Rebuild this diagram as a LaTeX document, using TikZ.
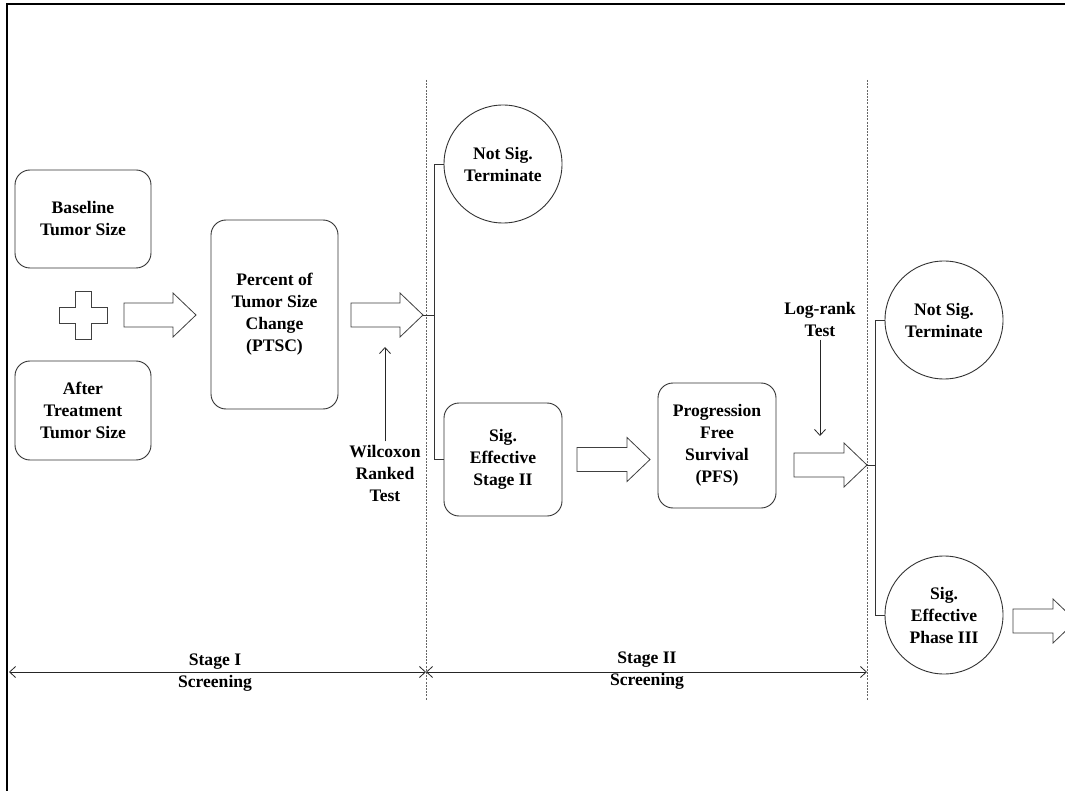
\documentclass[tikz,border=0pt]{standalone}
\usepackage{fontspec}
\setmainfont{Liberation Serif}
\usetikzlibrary{arrows.meta}

\newcommand\lbl{\fontsize{17.6}{22}\selectfont\bfseries}
% fat outline arrow: shaft start (mid point), shaft length, tip name
\newcommand\fatarrow[3]{\draw[barrow] #1 ++(0,-12) -- ++(#2,0) -- ++(0,-10) -- ++(23,22) coordinate (#3) -- ++(-23,22) -- ++(0,-10) -- ++(-#2,0) -- cycle;}

\tikzset{
  box/.style={draw=black!80, line width=0.9pt, rounded corners=15pt, align=center, font=\lbl},
  disc/.style={draw=black!80, line width=0.9pt, circle, minimum size=118pt, inner sep=0pt, align=center, font=\lbl},
  barrow/.style={draw=black!75, line width=0.8pt, fill=white},
  testarrow/.style={draw=black!85, line width=0.8pt, -{Straight Barb[length=6pt,width=11pt]}},
  stagearrow/.style={draw=black!85, line width=0.8pt, {Straight Barb[length=6pt,width=11pt]}-{Straight Barb[length=6pt,width=11pt]}},
  divider/.style={draw=black!60, line width=0.8pt, dash pattern=on 2pt off 1.2pt},
  bracket/.style={draw=black!80, line width=0.8pt},
}

\begin{document}
\begin{tikzpicture}[x=1pt,y=-1pt]
  \useasboundingbox (0,0) rectangle (1065,791);
  \clip (0,0) rectangle (1065,791);
  \fill[white] (0,0) rectangle (1065,791);
  \draw[line width=1.2pt] (7,791) -- (7,4) -- (1065,4);

  % stage dividers
  \coordinate (d1top) at (426,80);
  \coordinate (d1bot) at (426,700);
  \coordinate (d2top) at (867,80);
  \coordinate (d2bot) at (867,700);
  \draw[divider] (d1top) -- (d1bot);
  \draw[divider] (d2top) -- (d2bot);

  % stage I
  \node[box, minimum width=136pt, minimum height=98pt] (base) at (83,219) {Baseline\\Tumor Size};
  \node[box, minimum width=136pt, minimum height=99pt] (after) at (83,410.5) {After\\Treatment\\Tumor Size};
  \draw[draw=black!75, line width=0.9pt] (75,291) -- (91,291) -- (91,307) -- (107,307) -- (107,323) -- (91,323)
    -- (91,339) -- (75,339) -- (75,323) -- (59,323) -- (59,307) -- (75,307) -- cycle;
  \fatarrow{(124,315)}{49}{t1}
  \node[box, minimum width=127pt, minimum height=189pt] (ptsc) at (274.5,314.5) {Percent of\\Tumor Size\\Change\\(PTSC)};
  \fatarrow{(351,315)}{49}{t2}
  \node[align=center, font=\lbl] (wil) at (385,473) {Wilcoxon\\Ranked\\Test};
  \coordinate (w) at (385,347);
  \draw[testarrow] (wil.north) -- (w);

  % stage II
  \node[disc] (ns1) at (503,164) {Not Sig.\\Terminate};
  \node[box, minimum width=118pt, minimum height=113pt] (sig2) at (503,459.5) {Sig.\\Effective\\Stage II};
  \draw[bracket] (ns1.west) -- ++(-9,0) coordinate (b1) |- (sig2.west);
  \draw[bracket] (t2) -- (t2 -| b1);
  \fatarrow{(577,459.5)}{50}{t3}
  \node[box, minimum width=118pt, minimum height=125pt] (pfs) at (717,445.5) {Progression\\Free\\Survival\\(PFS)};
  \fatarrow{(794,465)}{50}{t4}
  \node[align=center, font=\lbl] (lr) at (820,319) {Log-rank\\Test};
  \coordinate (l) at (820,436);
  \draw[testarrow] (lr.south) -- (l);

  % outcome
  \node[disc] (ns2) at (944,320) {Not Sig.\\Terminate};
  \node[disc] (sig3) at (944,615) {Sig.\\Effective\\Phase III};
  \draw[bracket] (ns2.west) -- ++(-9,0) coordinate (b2) |- (sig3.west);
  \draw[bracket] (t4) -- (t4 -| b2);
  \fatarrow{(1013,621)}{40}{t5}

  % stage spans
  \coordinate (s0) at (9,672);
  \draw[stagearrow] (s0) -- (s0 -| d1top);
  \draw[stagearrow] (s0 -| d1top) -- (s0 -| d2top);
  \node[align=center, font=\lbl] (st1) at (215,673) {Stage I\\Screening};
  \node[align=center, font=\lbl] (st2) at (647,671) {Stage II\\Screening};
\end{tikzpicture}
\end{document}
